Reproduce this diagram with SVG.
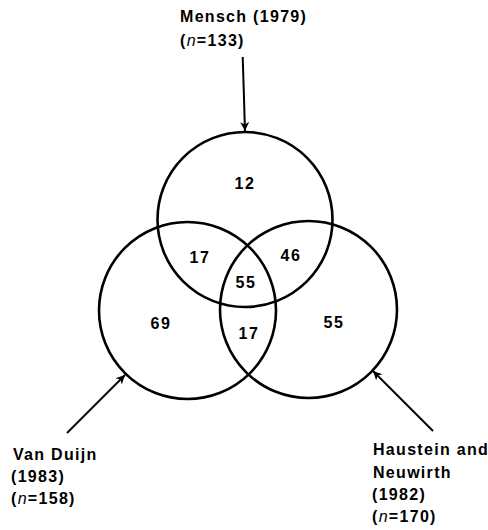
<svg xmlns="http://www.w3.org/2000/svg" width="488" height="530" viewBox="0 0 488 530">
<defs>
<style>
.c{fill:none;stroke:#000;stroke-width:2.6}
.a{fill:none;stroke:#000;stroke-width:2;marker-end:url(#ah)}
text{font-family:"Liberation Sans",Arial,sans-serif;font-weight:bold;fill:#000}
.lb{font-size:16px;letter-spacing:1.3px}
.nm{font-size:16px;letter-spacing:1.6px;text-anchor:middle}
.it{font-style:italic;font-weight:normal}
</style>
<marker id="ah" viewBox="-10 -6 12 12" refX="0" refY="0" markerWidth="12" markerHeight="12" markerUnits="userSpaceOnUse" orient="auto">
<path d="M0,0 L-9,-4.5 L-6.5,0 L-9,4.5 Z" fill="#000"/>
</marker>
</defs>
<rect width="488" height="530" fill="#fff"/>
<g id="mensch">
<circle class="c" cx="245" cy="219.5" r="87.5"/>
<text class="lb" x="180" y="22">Mensch (1979)</text>
<text class="lb" x="180" y="46">(<tspan class="it">n</tspan>=133)</text>
</g>
<g id="vanduijn">
<circle class="c" cx="187.5" cy="310.5" r="88.5"/>
<text class="lb" x="13" y="460">Van Duijn</text>
<text class="lb" x="11" y="482">(1983)</text>
<text class="lb" x="11" y="504">(<tspan class="it">n</tspan>=158)</text>
</g>
<g id="haustein">
<circle class="c" cx="308.5" cy="309.5" r="88.5"/>
<text class="lb" x="373" y="455">Haustein and</text>
<text class="lb" x="373" y="478">Neuwirth</text>
<text class="lb" x="372" y="500">(1982)</text>
<text class="lb" x="372" y="522">(<tspan class="it">n</tspan>=170)</text>
</g>
<g id="regions">
<text class="nm" x="245" y="189">12</text>
<text class="nm" x="200" y="263">17</text>
<text class="nm" x="291" y="261">46</text>
<text class="nm" x="246" y="288">55</text>
<text class="nm" x="161" y="329">69</text>
<text class="nm" x="249" y="339">17</text>
<text class="nm" x="334" y="328">55</text>
</g>
<g id="connectors">
<line class="a" x1="242.7" y1="57" x2="245" y2="131"/>
<line class="a" x1="67" y1="433" x2="125" y2="375"/>
<line class="a" x1="433" y1="431" x2="373" y2="371"/>
</g>
</svg>
